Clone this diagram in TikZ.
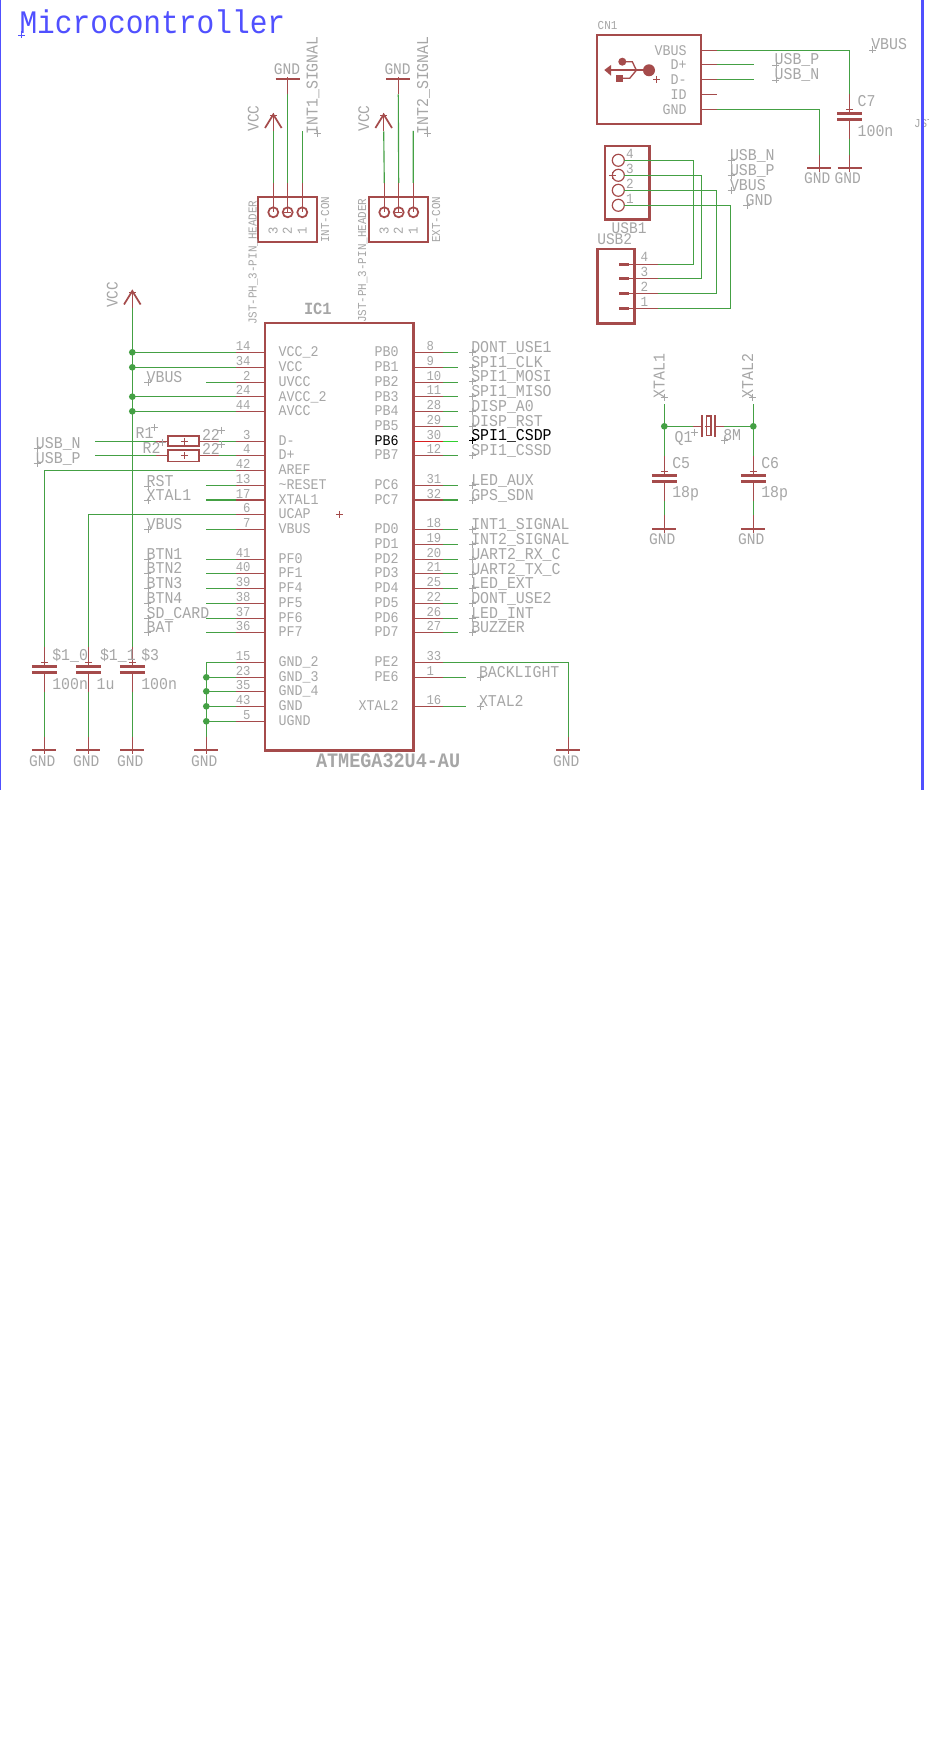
\documentclass[tikz,border=0pt]{standalone}
\usepackage{fontspec}
\setmainfont{Liberation Mono}[FakeStretch=0.9]
\definecolor{symc}{HTML}{A54B4B}
\definecolor{wirec}{HTML}{44A044}
\definecolor{txtc}{HTML}{A6A6A6}
\definecolor{bluec}{HTML}{5050FF}
\tikzset{
 sym/.style={draw=symc,line width=0.85pt},
 symthick/.style={draw=symc,line width=2pt},
 symmid/.style={draw=symc,line width=1.3pt},
 wire/.style={draw=wirec,line width=0.85pt},
 lbl/.style={text=txtc,inner sep=0pt,outer sep=0pt,anchor=base west},
 fnet/.style={font=\fontsize{12.4}{13}\selectfont},
 fpin/.style={font=\fontsize{11.1}{12}\selectfont},
 fnum/.style={font=\fontsize{10.2}{11}\selectfont},
 fsup/.style={font=\fontsize{12.1}{13}\selectfont},
 fsmall/.style={font=\fontsize{9.1}{10}\selectfont},
 dot/.style={circle,fill=wirec,draw=none,minimum size=5pt,inner sep=0pt},
}
% small origin cross
\newcommand\orig[3][txtc]{\draw[draw=#1,line width=0.6pt] (#2-3.5,#3)--(#2+3.5,#3) (#2,#3-3.5)--(#2,#3+3.5);}
% net label with its origin cross
\newcommand\netlabel[5][txtc]{\node[lbl,fnet,text=#1] (#2) at (#3,#4) {#5};\orig[#1]{#3+1.2}{#4}}
\newcommand\netlabelr[4]{\node[lbl,fnet,rotate=90] (#1) at (#2,#3) {#4};\orig{#2-0.5}{#3-1}}
% IC pins
\newcommand\lpin[4]{%
 \coordinate (pL#1) at (265,#3);\coordinate (sL#1) at (236,#3);\coordinate (eL#1) at (#4,#3);
 \draw[wire] (sL#1)--(eL#1);\draw[sym] (pL#1)--(sL#1);
 \node[lbl,fpin] (nameL#1) at (278.7,#3+4.5) {#2};
 \node[lbl,fnum,anchor=base east] (numL#1) at (250.5,#3-2) {#1};}
\newcommand\rpin[7]{%
 \coordinate (pR#1) at (413.5,#3);\coordinate (sR#1) at (442.7,#3);\coordinate (eR#1) at (#4,#3);
 \draw[draw=#6,line width=0.85pt] (sR#1)--(eR#1);\draw[draw=#5,line width=0.85pt] (pR#1)--(sR#1);
 \node[lbl,fpin,text=#7,anchor=base east] (nameR#1) at (398.6,#3+4.5) {#2};
 \node[lbl,fnum] (numR#1) at (426.5,#3-2) {#1};}
% capacitor
\newcommand\capa[3]{%
 \coordinate (#1-t) at (#2,#3-19);\coordinate (#1-b) at (#2,#3+25.4);
 \draw[sym] (#1-t)--(#2,#3) (#2,#3+6.4)--(#1-b);
 \draw[symthick] (#2-12.5,#3)--(#2+12.5,#3) (#2-12.5,#3+6.4)--(#2+12.5,#3+6.4);
 \draw[draw=symc,line width=0.6pt] (#2-3.5,#3-3.7)--(#2+3.5,#3-3.7);}
% ground symbols
\newcommand\gnd[3]{%
 \coordinate (#1) at (#2,#3-13.3);
 \draw[sym] (#1)--(#2,#3+4);
 \draw[symmid] (#2-12,#3)--(#2+12,#3);
 \node[lbl,fsup,anchor=base] (#1-txt) at (#2-2,#3+16) {GND};}
\newcommand\gndup[2]{%
 \coordinate (#1) at (#2,94.5);
 \draw[sym] (#1)--(#2,77);
 \draw[symmid] (#2-12,79)--(#2+12,79);
 \node[lbl,fsup,anchor=base] (#1-txt) at (#2-0.7,75) {GND};}
% supply arrow
\newcommand\vccup[3]{%
 \coordinate (#1) at (#2,#3+18);
 \draw[sym] (#1)--(#2,#3);
 \draw[symmid] (#2-8.3,#3+14.5)--(#2,#3+1)--(#2+8.3,#3+14.5);
 \draw[draw=symc,line width=0.6pt] (#2-3.5,#3+2)--(#2+3.5,#3+2);
 \node[lbl,fsup,rotate=90] (#1-txt) at (#2-14.7,#3+18) {VCC};}
% 3 pin header
\newcommand\jst[5]{%
 \draw[symmid] (#2,197) rectangle (#2+59,242);
 \foreach \dx/\k in {15.3/3,29.7/2,44.3/1}{
  \coordinate (#1-\k) at (#2+\dx,183);
  \draw[symmid] (#2+\dx,212.3) circle (5);
  \draw[sym] (#1-\k)--(#2+\dx,212.3);
  \node[lbl,fnum,rotate=90,anchor=base] (#1-num\k) at (#2+\dx+4.2,230.5) {\k};
 }
 \draw[draw=symc,line width=0.6pt] (#2+26,212.3)--(#2+33.4,212.3);
 \node[lbl,fsmall,rotate=90] (#1-val) at (#3,#4) {JST-PH\_3-PIN\_HEADER};
 \node[lbl,fsmall,rotate=90] (#1-name) at (#2+71.2,242.7) {#5};}
\begin{document}
\begin{tikzpicture}[x=0.75pt,y=-0.75pt]
\useasboundingbox (0,0) rectangle (928,1758);
\clip (0,0) rectangle (928,1758);
\fill[white] (0,0) rectangle (928,1758);

% title
\node[lbl,text=bluec,font=\fontsize{24.6}{26}\selectfont] (title) at (19.5,34) {Microcontroller};
\orig[bluec]{21.5}{35}

% headers
\jst{hA}{258}{256.7}{325}{INT-CON}
\jst{hB}{369}{366}{323}{EXT-CON}
\vccup{vA}{273.3}{113.5}
\vccup{vB}{383.7}{113.5}
\gndup{gA}{287.7}
\gndup{gB}{398.3}
\coordinate (iA) at (302.3,131);
\coordinate (iB) at (413.3,131);
\draw[wire] (hA-3)--(vA) (hA-2)--(gA) (hA-1)--(iA);
\draw[wire] (hB-3)--(vB) (hB-2)--(gB) (hB-1)--(iB);
\netlabelr{lI1}{317.5}{134.5}{INT1\_SIGNAL}
\netlabelr{lI2}{428}{134.5}{INT2\_SIGNAL}

% IC1
\draw[draw=symc,line width=2pt] (265,323) rectangle (413.5,750.7);
\node[lbl,font=\fontsize{12.8}{13}\bfseries] (ic1name) at (304,315) {IC1};
\node[lbl,font=\fontsize{15.4}{16}\bfseries] (ic1val) at (316,767) {ATMEGA32U4-AU};
\orig[symc]{339.3}{514.3}

\foreach \n/\t/\y/\e in {
 14/VCC\_2/352.3/132.3, 34/VCC/367.3/132.3, 2/UVCC/382.3/206, 24/AVCC\_2/396.7/132.3, 44/AVCC/411.3/132.3,
 3/D-/441.3/219, 4/D+/455.3/219, 42/AREF/470.3/44.3, 13/\textasciitilde RESET/485.3/206, 17/XTAL1/500/206,
 6/UCAP/514.3/88.3, 7/VBUS/529.3/206, 41/PF0/559.3/206, 40/PF1/573.3/206, 39/PF4/588.3/206, 38/PF5/603.3/206,
 37/PF6/618.3/206, 36/PF7/632.3/206, 15/GND\_2/662.3/206.3, 23/GND\_3/677.3/206.3, 35/GND\_4/691.3/206.3,
 43/GND/706.3/206.3, 5/UGND/721.3/206.3}{\lpin{\n}{\t}{\y}{\e}}
\foreach \n/\t/\y/\e in {
 8/PB0/352.3/457.7, 9/PB1/367.3/457.7, 10/PB2/382.3/457.7, 11/PB3/396.7/457.7, 28/PB4/411.3/457.7, 29/PB5/426.3/457.7,
 12/PB7/455.3/457.7, 31/PC6/485.3/457.7, 32/PC7/500/457.7, 18/PD0/529.3/457.7, 19/PD1/544.3/457.7,
 20/PD2/559.3/457.7, 21/PD3/573.3/457.7, 25/PD4/588.3/457.7, 22/PD5/603.3/457.7, 26/PD6/618.3/457.7, 27/PD7/632.3/457.7,
 33/PE2/662.3/568.3, 1/PE6/677.3/466, 16/XTAL2/706.3/466}{\rpin{\n}{\t}{\y}{\e}{symc}{wirec}{txtc}}
\definecolor{hotr}{HTML}{D82020}\definecolor{hotg}{HTML}{30D030}
\rpin{30}{PB6}{441.3}{457.7}{hotr}{hotg}{black}

% right column labels
\foreach \k/\t/\y in {a/DONT\_USE1/352.6,b/SPI1\_CLK/367,c/SPI1\_MOSI/381.7,d/SPI1\_MISO/396.7,e/DISP\_A0/411.7,f/DISP\_RST/426,
 h/SPI1\_CSSD/455.7,i/LED\_AUX/485,j/GPS\_SDN/500,k/INT1\_SIGNAL/529.7,l/INT2\_SIGNAL/544.3,m/UART2\_RX\_C/559,n/UART2\_TX\_C/574,
 o/LED\_EXT/588.7,p/DONT\_USE2/603.3,q/LED\_INT/618,r/BUZZER/632.7}{\netlabel{lR\k}{471.3}{\y}{\t}}
\netlabel[black]{lRg}{471.3}{440.7}{SPI1\_CSDP}
\netlabel{lBack}{479}{677.3}{BACKLIGHT}
\netlabel{lX2}{479}{706.3}{XTAL2}

% left column labels
\foreach \k/\t/\y in {a/VBUS/382.3,b/RST/486,c/XTAL1/500,d/VBUS/529.3,e/BTN1/559.3,f/BTN2/573.3,g/BTN3/588.3,h/BTN4/603.3,i/SD\_CARD/618.3,j/BAT/632.3}{\netlabel{lL\k}{146.7}{\y}{\t}}
\netlabel{lUn}{36}{448.3}{USB\_N}
\netlabel{lUp}{36}{463}{USB\_P}

% series resistors
\coordinate (rAl) at (156,441.3);\coordinate (rAw) at (95,441.3);
\coordinate (rBl) at (156,455.3);\coordinate (rBw) at (95,455.3);
\draw[wire] (rAw)--(rAl) (rBw)--(rBl);
\draw[sym] (rAl)--(168.3,441.3) (199.3,441.3)--(eL3) (rBl)--(168.3,455.3) (199.3,455.3)--(eL4);
\draw[symmid] (168.3,436.3) rectangle (199.3,446);
\draw[symmid] (168.3,450.3) rectangle (199.3,461.5);
\orig[symc]{184.3}{441.3}\orig[symc]{184.3}{455.3}
\node[lbl,fnet] (R1n) at (135.7,438.3) {R1};\orig{154.3}{427.7}
\node[lbl,fnet] (R2n) at (142.7,453) {R2};\orig{162.3}{442.3}
\node[lbl,fnet] (R1v) at (202,440) {22};\orig{221.7}{430}
\node[lbl,fnet] (R2v) at (202,454.3) {22};\orig{221.7}{444.3}

% supply rail and decoupling
\vccup{vC}{132.3}{290}
\capa{c1}{44.3}{666.3}
\capa{c2}{88.3}{666.3}
\capa{c3}{132.3}{666.3}
\gnd{g1}{44.3}{750}
\gnd{g2}{88.3}{750}
\gnd{g3}{132.3}{750}
\gnd{g4}{206.3}{750}
\gnd{g5}{568.3}{750}
\draw[wire] (vC)--(c3-t) (c1-b)--(g1) (c2-b)--(g2) (c3-b)--(g3);
\draw[wire] (eL42)--(c1-t) (eL6)--(c2-t) (eL15)--(g4) (eR33)--(g5);
\foreach \p in {14,34,24,44}{\node[dot] (j\p) at (eL\p) {};}
\foreach \p in {23,35,43,5}{\node[dot] (j\p) at (eL\p) {};}
\node[lbl,fnet] (c1n) at (52.3,660) {\$1\_0};
\node[lbl,fnet] (c2n) at (100,660) {\$1\_1};
\node[lbl,fnet] (c3n) at (141.3,660) {\$3};
\node[lbl,fnet] (c1v) at (52.3,689.3) {100n};
\node[lbl,fnet] (c2v) at (96.7,689.3) {1u};
\node[lbl,fnet] (c3v) at (141.3,689.3) {100n};

% CN1
\draw[symmid] (597.3,35) rectangle (701,124);
\node[lbl,fsmall] (cn1) at (597.7,30) {CN1};
\foreach \k/\t/\y in {a/VBUS/50.3,b/D+/64.3,c/D-/79.3,d/ID/94.3,e/GND/109.3}{
 \coordinate (cn\k) at (701,\y);\coordinate (cs\k) at (716.7,\y);
 \draw[sym] (cn\k)--(cs\k);
 \node[lbl,fpin,anchor=base east] (cnt\k) at (686.6,\y+5) {\t};
}
\fill[symc] (604.3,70)--(611,65)--(611,75.7)--cycle;
\draw[draw=symc,line width=1.3pt] (608,70)--(645,70);
\fill[symc] (649,70.3) circle (6);
\fill[symc] (622.3,61.7) circle (4);
\fill[symc] (616,75) rectangle (623,82);
\draw[draw=symc,line width=1pt] (625,61.7)--(632.3,61.7)--(636,69.5) (623,78.3)--(629.7,78.3)--(636,70.7);
\orig[symc]{656.7}{79.3}
\coordinate (dpE) at (754,64.3);\coordinate (dmE) at (754,79.3);
\draw[wire] (csb)--(dpE) (csc)--(dmE);
\netlabel{lP1}{774.7}{65}{USB\_P}
\netlabel{lN1}{774.7}{80}{USB\_N}
\netlabel{lV1}{871.3}{50}{VBUS}
\capa{c7}{849.7}{113.3}
\gnd{g7}{849.7}{168}
\gnd{g8}{819.3}{168}
\coordinate (k7) at (849.7,50.3);\coordinate (k8) at (819.3,109.3);
\draw[wire] (csa)--(k7)--(c7-t) (c7-b)--(g7) (cse)--(k8)--(g8);
\node[lbl,fnet] (c7n) at (857.7,106.7) {C7};
\node[lbl,fnet] (c7v) at (857.7,136.7) {100n};
\node[lbl,fsmall] (jfrag) at (914,128) {JST};

% USB1 / USB2
\draw[symthick] (605,146) rectangle (649.7,219.7);
\draw[symthick] (597.3,249) rectangle (634.7,323.3);
\node[lbl,fsup] (usb1) at (611.7,233.3) {USB1};
\node[lbl,fsup] (usb2) at (597.3,244.3) {USB2};
\orig[symc]{612.3}{175.3}
\foreach \k/\ya/\tya/\yb/\tyb/\xr in {4/160.3/159/264.3/261.7/693.3,3/175.3/173.7/278.3/276.7/701.3,2/190.3/188.3/293.3/291.7/716.3,1/205.3/203.3/308.3/306/730.3}{
 \draw[draw=symc,line width=0.9pt] (618.3,\ya) circle (6);
 \node[lbl,fnet,font=\fontsize{10.5}{11}\selectfont] (ua\k) at (626,\tya) {\k};
 \node[lbl,fnet,font=\fontsize{10.5}{11}\selectfont] (ub\k) at (640.7,\tyb) {\k};
 \coordinate (upad\k) at (624.3,\ya);
 \coordinate (urA\k) at (\xr,\ya);
 \coordinate (urB\k) at (\xr,\yb);
 \coordinate (ustub\k) at (657.7,\yb);
 \coordinate (upin\k) at (629,\yb);
 \draw[wire] (upad\k)--(urA\k)--(urB\k)--(ustub\k);
 \draw[sym] (ustub\k)--(upin\k);
 \draw[draw=symc,line width=2.2pt] (upin\k)--(619,\yb);
}
\netlabel{lN2}{730}{160.7}{USB\_N}
\netlabel{lP2}{730}{175.3}{USB\_P}
\netlabel{lV2}{730}{190.3}{VBUS}
\netlabel{lG2}{745.7}{205.3}{GND}

% crystal
\coordinate (xA) at (664.3,426.3);\coordinate (xB) at (753.3,426.3);
\coordinate (xAt) at (664.3,404);\coordinate (xBt) at (753.3,404);
\coordinate (qL) at (693.3,426.3);\coordinate (qR) at (724,426.3);
\capa{c5}{664.3}{475.3}
\capa{c6}{753.3}{475.3}
\gnd{g55}{664.3}{528.7}
\gnd{g66}{753.3}{528.7}
\draw[wire] (xAt)--(c5-t) (xBt)--(c6-t) (c5-b)--(g55) (c6-b)--(g66) (xA)--(qL) (qR)--(xB);
\draw[sym] (qL)--(702.3,426.3) (715.3,426.3)--(qR);
\draw[symmid] (702.3,415)--(702.3,436.7) (715.3,415)--(715.3,436.7);
\draw[draw=symc,line width=1.1pt] (706.7,416) rectangle (711,435.7);
\draw[draw=symc,line width=0.6pt] (705,426.3)--(712,426.3);
\node[dot] (jxA) at (xA) {};\node[dot] (jxB) at (xB) {};
\node[lbl,fnet] (q1n) at (674.7,442.7) {Q1};\orig{694}{432.3}
\netlabel{q1v}{723.3}{440.7}{8M}
\node[lbl,fnet] (c5n) at (672.3,468.3) {C5};
\node[lbl,fnet] (c5v) at (672.3,497.7) {18p};
\node[lbl,fnet] (c6n) at (761.3,468.3) {C6};
\node[lbl,fnet] (c6v) at (761.3,497.7) {18p};
\netlabelr{lX1r}{664.5}{398}{XTAL1}
\netlabelr{lX2r}{753.2}{398}{XTAL2}

% sheet frame
\fill[bluec] (0,0) rectangle (1.2,790);
\fill[bluec] (920.7,0) rectangle (924,790);
\end{tikzpicture}
\end{document}
